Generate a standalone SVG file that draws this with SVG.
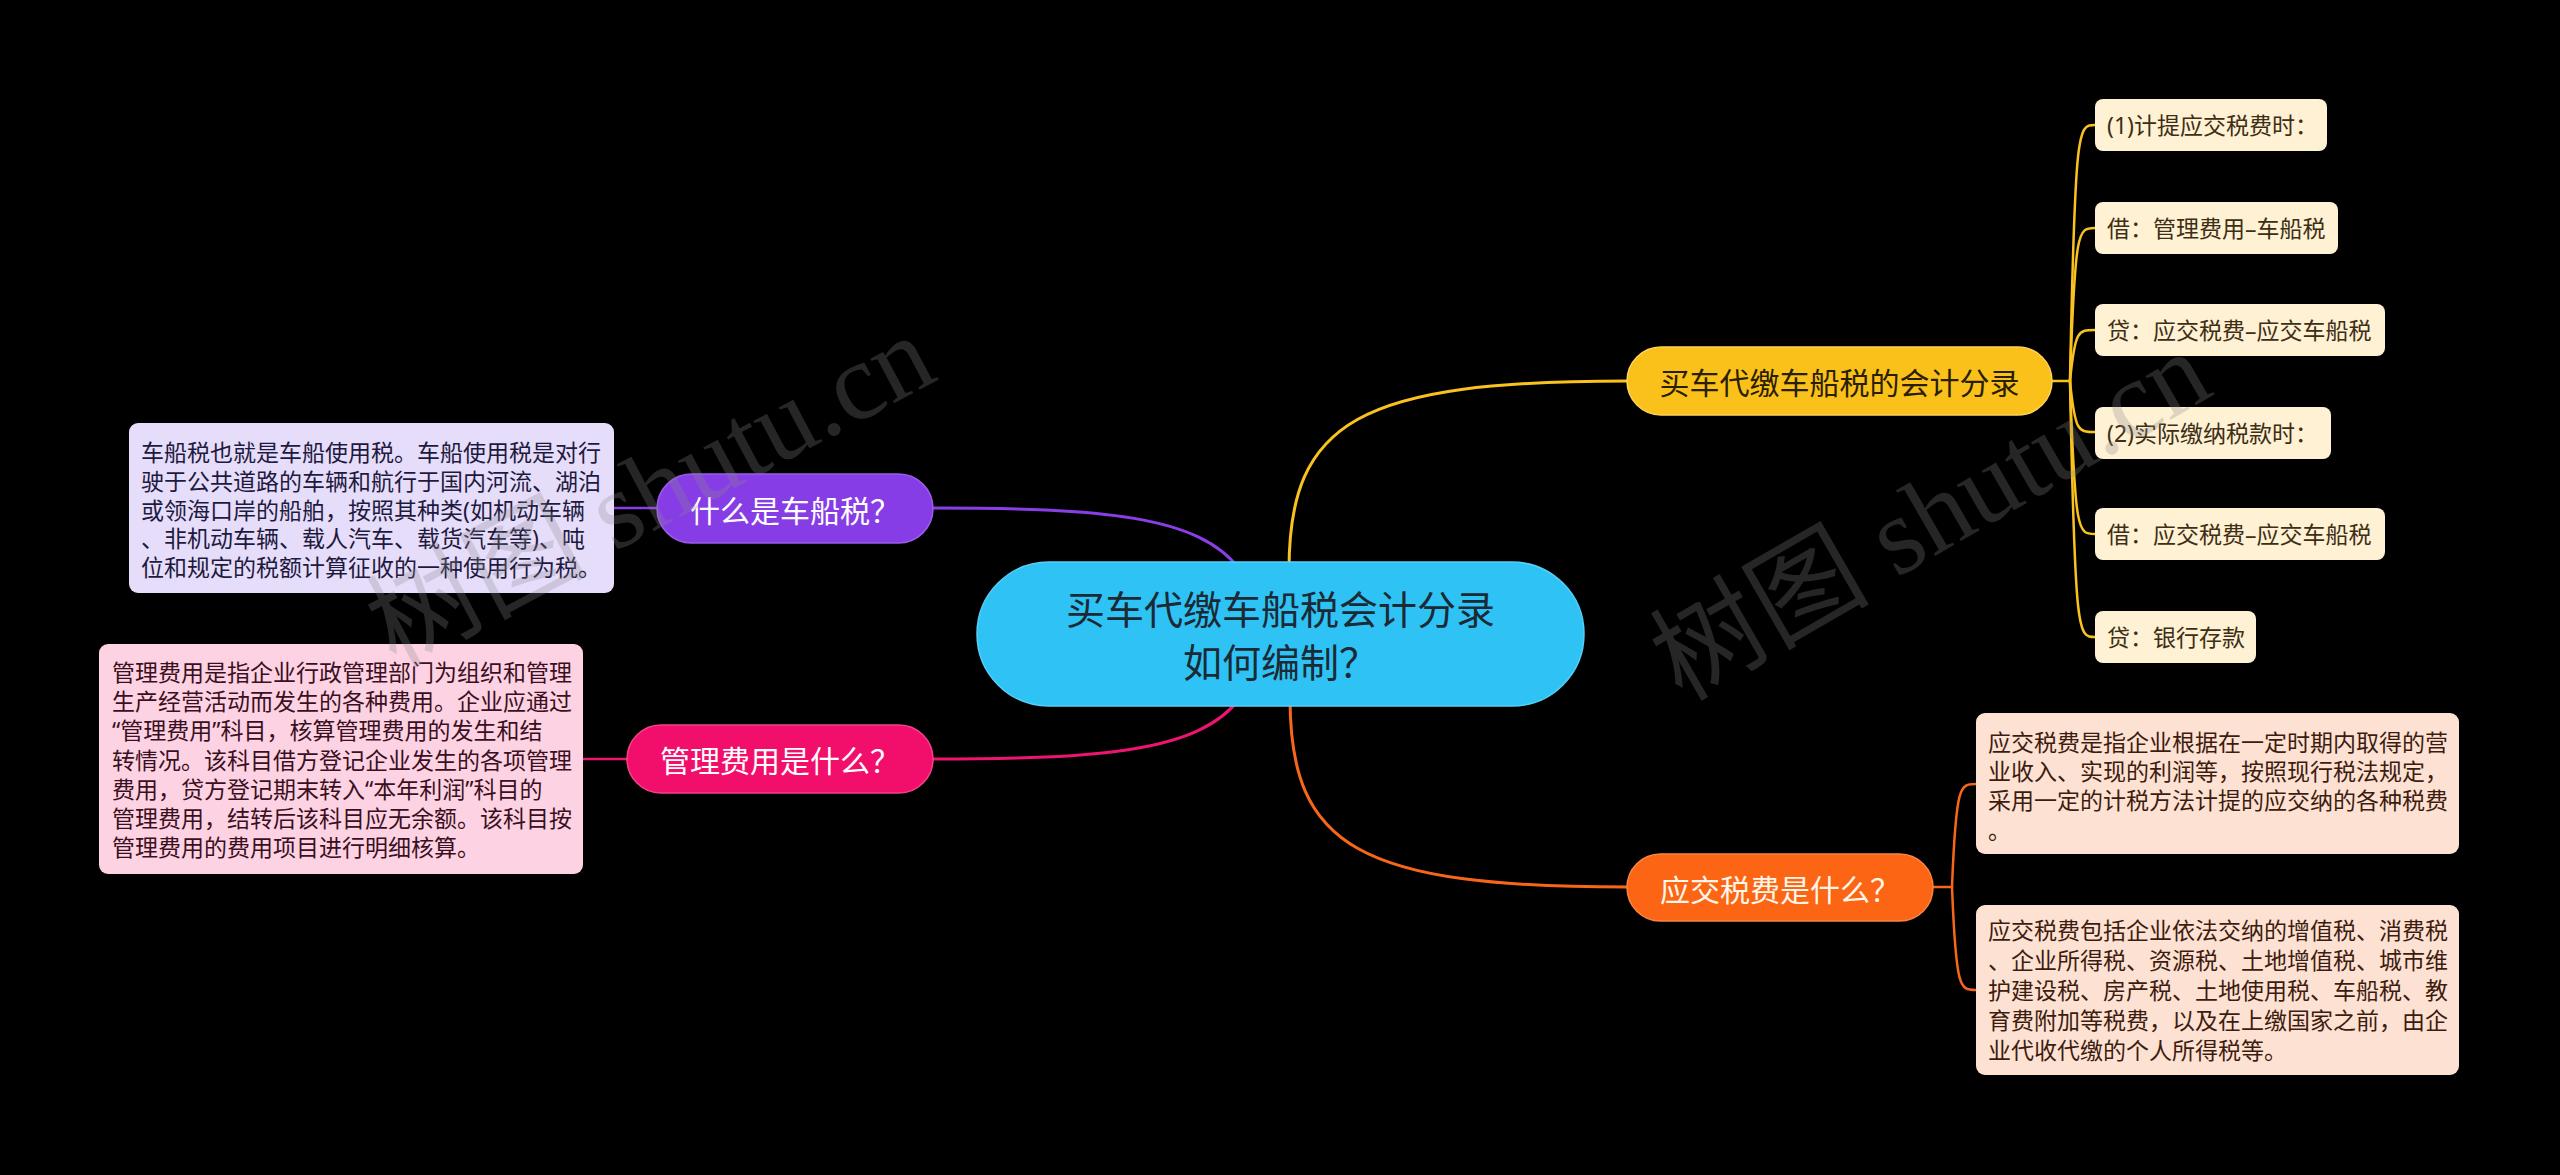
<svg xmlns="http://www.w3.org/2000/svg" width="2560" height="1175" viewBox="0 0 2560 1175">
<style>
.t{font-family:"Noto Sans CJK SC","Noto Sans",sans-serif;dominant-baseline:central}
.c{text-anchor:middle}
.main{font-size:30px}
.leaf{font-size:23px;font-family:"Noto Sans","Noto Sans CJK SC",sans-serif}
.ln{fill:none;stroke-linecap:round}
.l1{stroke-width:3}
.l2{stroke-width:2.5}
.wm{font-family:"Liberation Serif","Noto Sans CJK SC",serif;font-size:110px;fill:#8a8a8a;fill-opacity:0.28;text-anchor:middle}
</style>
<rect x="0" y="0" width="2560" height="1175" fill="#000"/>
<g id="connectors">
<path class="ln l1" stroke="#8A3FE6" d="M933,508 C1100,508 1200,515 1240,570"/>
<path class="ln l1" stroke="#EE1470" d="M933,759 C1100,759 1200,752 1240,698"/>
<path class="ln l1" stroke="#F9C21E" d="M1289,570 C1289,420 1360,381 1627,381"/>
<path class="ln l1" stroke="#F8661A" d="M1290,698 C1290,848 1360,887 1627,887"/>
<path class="ln l2" stroke="#8A3FE6" d="M614,508 H657"/>
<path class="ln l2" stroke="#EE1470" d="M583,759 H627"/>
<path class="ln l2" stroke="#F9C21E" d="M2052,381 H2070"/>
<path class="ln l2" stroke="#F9C21E" d="M2070,381 C2075,125 2078,125 2095,125"/>
<path class="ln l2" stroke="#F9C21E" d="M2070,381 C2075,228 2078,228 2095,228"/>
<path class="ln l2" stroke="#F9C21E" d="M2070,381 C2075,330 2078,330 2095,330"/>
<path class="ln l2" stroke="#F9C21E" d="M2070,381 C2075,432 2078,432 2095,432"/>
<path class="ln l2" stroke="#F9C21E" d="M2070,381 C2075,534 2078,534 2095,534"/>
<path class="ln l2" stroke="#F9C21E" d="M2070,381 C2075,637 2078,637 2095,637"/>
<path class="ln l2" stroke="#F8661A" d="M1933,887 H1952"/>
<path class="ln l2" stroke="#F8661A" d="M1952,887 C1956,784 1960,784 1976,784"/>
<path class="ln l2" stroke="#F8661A" d="M1952,887 C1956,990 1960,990 1976,990"/>
</g>
<g id="root">
<rect x="977" y="562" width="607" height="144" rx="72" fill="#2EC3F4" stroke="#55D0F7" stroke-width="1.5"/>
<text class="t c" font-size="39" fill="#1C2A35"><tspan x="1280.5" y="607">买车代缴车船税会计分录</tspan><tspan x="1280.5" y="660">如何编制？</tspan></text>
</g>
<g id="n-entry">
<rect x="1627" y="347" width="425" height="68" rx="34" fill="#FBC11B" stroke="#FDD257" stroke-width="1.5"/>
<text class="t c main" x="1839.5" y="381" fill="#2A2000">买车代缴车船税的会计分录</text>
</g>
<g id="n-tax">
<rect x="1627" y="854" width="306" height="67" rx="33.5" fill="#FB6514" stroke="#FC8443" stroke-width="1.5"/>
<text class="t c main" x="1780" y="887.5" fill="#FFF6EA">应交税费是什么？</text>
</g>
<g id="n-what">
<rect x="657" y="474" width="276" height="69" rx="34.5" fill="#873DE5" stroke="#9B5CEA" stroke-width="1.5"/>
<text class="t c main" x="795" y="508.5" fill="#FFFFFF">什么是车船税？</text>
</g>
<g id="n-mgmt">
<rect x="627" y="725" width="306" height="68" rx="34" fill="#F20F6C" stroke="#F54289" stroke-width="1.5"/>
<text class="t c main" x="780" y="759" fill="#FFFFFF">管理费用是什么？</text>
</g>
<g id="leaf-what">
<rect x="129" y="423" width="485" height="170" rx="9" fill="#E6DDFB"/>
<text class="t leaf" fill="#1E1A3E"><tspan x="141" y="452">车船税也就是车船使用税。车船使用税是对行</tspan><tspan x="141" y="480.8">驶于公共道路的车辆和航行于国内河流、湖泊</tspan><tspan x="141" y="509.5">或领海口岸的船舶，按照其种类(如机动车辆</tspan><tspan x="141" y="538.3">、非机动车辆、载人汽车、载货汽车等)、吨</tspan><tspan x="141" y="567">位和规定的税额计算征收的一种使用行为税。</tspan></text>
</g>
<g id="leaf-mgmt">
<rect x="99" y="644" width="484" height="230" rx="9" fill="#FDD3E3"/>
<text class="t leaf" fill="#3B0F22"><tspan x="112" y="672">管理费用是指企业行政管理部门为组织和管理</tspan><tspan x="112" y="701.2">生产经营活动而发生的各种费用。企业应通过</tspan><tspan x="112" y="730.4">“管理费用”科目，核算管理费用的发生和结</tspan><tspan x="112" y="759.6">转情况。该科目借方登记企业发生的各项管理</tspan><tspan x="112" y="788.8">费用，贷方登记期末转入“本年利润”科目的</tspan><tspan x="112" y="818">管理费用，结转后该科目应无余额。该科目按</tspan><tspan x="112" y="847.2">管理费用的费用项目进行明细核算。</tspan></text>
</g>
<g id="leaf-e1">
<rect x="2095" y="99" width="232" height="52" rx="8" fill="#FEF1D4"/>
<text class="t leaf" x="2107" y="125" fill="#3D2E14">(1)计提应交税费时：</text>
</g>
<g id="leaf-e2">
<rect x="2095" y="202" width="243" height="52" rx="8" fill="#FEF1D4"/>
<text class="t leaf" x="2107" y="228" fill="#3D2E14">借：管理费用–车船税</text>
</g>
<g id="leaf-e3">
<rect x="2095" y="304" width="290" height="52" rx="8" fill="#FEF1D4"/>
<text class="t leaf" x="2107" y="330" fill="#3D2E14">贷：应交税费–应交车船税</text>
</g>
<g id="leaf-e4">
<rect x="2095" y="407" width="236" height="52" rx="8" fill="#FEF1D4"/>
<text class="t leaf" x="2107" y="432.5" fill="#3D2E14">(2)实际缴纳税款时：</text>
</g>
<g id="leaf-e5">
<rect x="2095" y="508" width="290" height="52" rx="8" fill="#FEF1D4"/>
<text class="t leaf" x="2107" y="534" fill="#3D2E14">借：应交税费–应交车船税</text>
</g>
<g id="leaf-e6">
<rect x="2095" y="611" width="161" height="52" rx="8" fill="#FEF1D4"/>
<text class="t leaf" x="2107" y="637" fill="#3D2E14">贷：银行存款</text>
</g>
<g id="leaf-tax1">
<rect x="1976" y="713" width="483" height="141" rx="9" fill="#FDE2D3"/>
<text class="t leaf" fill="#3D1C10"><tspan x="1988" y="741.7">应交税费是指企业根据在一定时期内取得的营</tspan><tspan x="1988" y="771">业收入、实现的利润等，按照现行税法规定，</tspan><tspan x="1988" y="800.3">采用一定的计税方法计提的应交纳的各种税费</tspan><tspan x="1988" y="829.6">。</tspan></text>
</g>
<g id="leaf-tax2">
<rect x="1976" y="905" width="483" height="170" rx="9" fill="#FDE2D3"/>
<text class="t leaf" fill="#3D1C10"><tspan x="1988" y="930">应交税费包括企业依法交纳的增值税、消费税</tspan><tspan x="1988" y="960">、企业所得税、资源税、土地增值税、城市维</tspan><tspan x="1988" y="990">护建设税、房产税、土地使用税、车船税、教</tspan><tspan x="1988" y="1020">育费附加等税费，以及在上缴国家之前，由企</tspan><tspan x="1988" y="1050">业代收代缴的个人所得税等。</tspan></text>
</g>
<g id="watermark">
<text class="wm" x="650" y="528" transform="rotate(-28 650 490)">树图 shutu.cn</text>
<text class="wm" x="1930" y="553" transform="rotate(-30 1930 515)">树图 shutu.cn</text>
</g>
</svg>
